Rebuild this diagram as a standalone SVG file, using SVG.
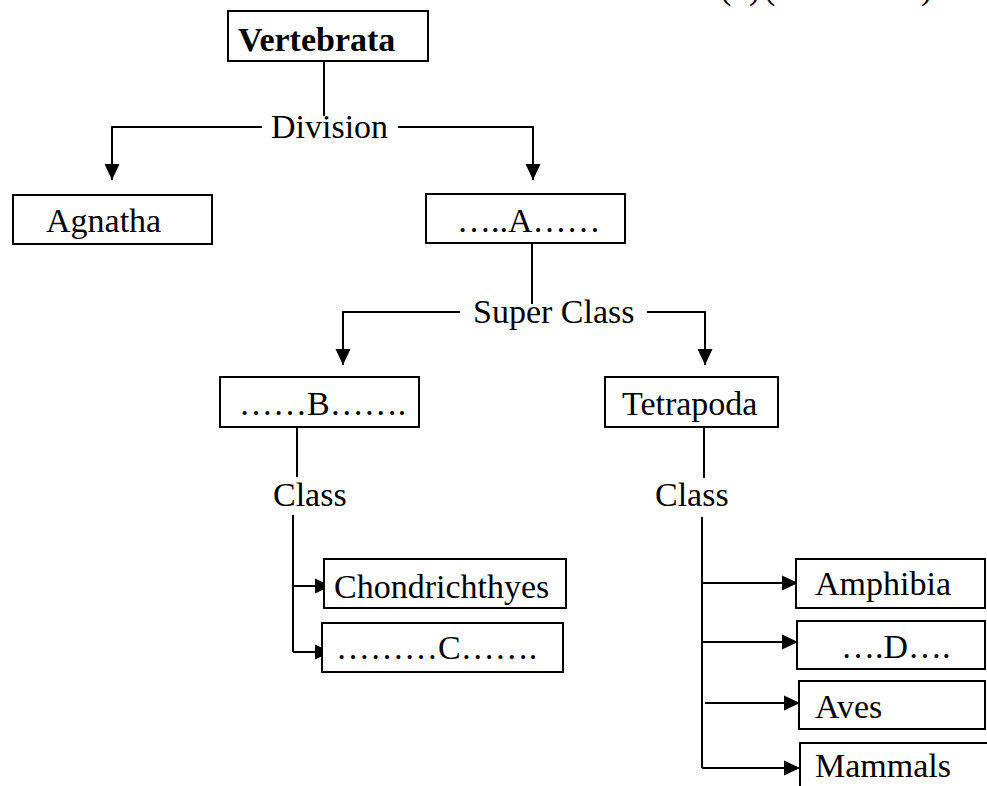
<svg xmlns="http://www.w3.org/2000/svg" width="987" height="786" viewBox="0 0 987 786">
<style>
text{font-family:"Liberation Serif","Times New Roman",serif;font-size:34px;fill:#000}
.b{font-weight:bold}
rect{fill:#fff;stroke:#000;stroke-width:2}
.c path{fill:none;stroke:#000;stroke-width:2}
</style>
<defs>
<marker id="ah" viewBox="0 0 16 16" markerWidth="16" markerHeight="16" refX="16" refY="8" orient="auto" markerUnits="userSpaceOnUse">
<path d="M0,0.5 L16,8 L0,15.5 z" fill="#000"/>
</marker>
</defs>
<text><tspan x="720" y="-1">(</tspan><tspan x="749" y="-1">)</tspan><tspan x="764" y="-1">(</tspan><tspan x="921" y="-1">)</tspan></text>
<g class="c" id="connectors">
<path d="M324,61 V116"/>
<path d="M262,127 H112 V180" marker-end="url(#ah)"/>
<path d="M398,127 H533 V180" marker-end="url(#ah)"/>
<path d="M532,243 V304"/>
<path d="M460,312 H343 V365" marker-end="url(#ah)"/>
<path d="M647,312 H705 V365" marker-end="url(#ah)"/>
<path d="M297,427 V477"/>
<path d="M704,427 V478"/>
<path d="M293,515 V652"/>
<path d="M293,586 H331" marker-end="url(#ah)"/>
<path d="M293,652 H331" marker-end="url(#ah)"/>
<path d="M702,517 V768"/>
<path d="M702,583 H798" marker-end="url(#ah)"/>
<path d="M702,642 H798" marker-end="url(#ah)"/>
<path d="M705,703 H800" marker-end="url(#ah)"/>
<path d="M702,768 H800" marker-end="url(#ah)"/>
</g>
<g id="vertebrata"><rect x="228" y="11" width="200" height="50"/><text class="b" x="238" y="51">Vertebrata</text></g>
<g id="division"><text x="271" y="138">Division</text></g>
<g id="agnatha"><rect x="13" y="195" width="199" height="49"/><text x="46" y="232">Agnatha</text></g>
<g id="a"><rect x="426" y="194" width="199" height="49"/><text x="457" y="232">…..A……</text></g>
<g id="superclass"><text x="473" y="323">Super Class</text></g>
<g id="b"><rect x="220" y="377" width="199" height="50"/><text x="239" y="415">……B…….</text></g>
<g id="tetrapoda"><rect x="605" y="377" width="173" height="50"/><text x="622" y="415">Tetrapoda</text></g>
<g id="class1"><text x="273" y="506">Class</text></g>
<g id="class2"><text x="655" y="506">Class</text></g>
<g id="chondrichthyes"><rect x="324" y="559" width="242" height="49"/><text x="334" y="598">Chondrichthyes</text></g>
<g id="c"><rect x="322" y="623" width="241" height="49"/><text x="336" y="659">………C…….</text></g>
<g id="amphibia"><rect x="796" y="559" width="189" height="49"/><text x="815" y="595">Amphibia</text></g>
<g id="d"><rect x="797" y="621" width="188" height="48"/><text x="841" y="658">….D….</text></g>
<g id="aves"><rect x="799" y="681" width="186" height="48"/><text x="815" y="718">Aves</text></g>
<g id="mammals"><rect x="800" y="743" width="200" height="60"/><text x="815" y="777">Mammals</text></g>
</svg>
